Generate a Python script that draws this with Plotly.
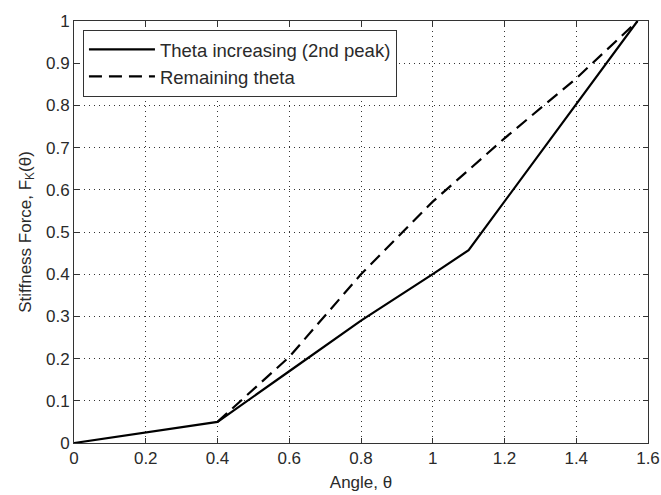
import plotly.graph_objects as go

# Data
theta_inc_x = [0.0, 0.2, 0.4, 0.6, 0.8, 1.0, 1.1, 1.5708]
theta_inc_y = [0.0, 0.025, 0.05, 0.17, 0.29, 0.40, 0.457, 1.0]

remaining_x = [0.4, 0.6, 0.8, 1.0, 1.2, 1.4, 1.5708]
remaining_y = [0.05, 0.204, 0.40, 0.572, 0.722, 0.864, 1.0]

x_ticks = [0, 0.2, 0.4, 0.6, 0.8, 1.0, 1.2, 1.4, 1.6]
x_tick_labels = ["0", "0.2", "0.4", "0.6", "0.8", "1", "1.2", "1.4", "1.6"]
y_ticks = [0, 0.1, 0.2, 0.3, 0.4, 0.5, 0.6, 0.7, 0.8, 0.9, 1.0]
y_tick_labels = ["0", "0.1", "0.2", "0.3", "0.4", "0.5", "0.6", "0.7", "0.8", "0.9", "1"]

FONT = "Liberation Sans, Arial, sans-serif"
TXT = "#2a2a2a"

fig = go.Figure()
fig.add_trace(go.Scatter(
    x=theta_inc_x, y=theta_inc_y, mode="lines",
    name="Theta increasing (2nd peak)",
    line=dict(color="black", width=2.2),
))
fig.add_trace(go.Scatter(
    x=remaining_x, y=remaining_y, mode="lines",
    name="Remaining theta",
    line=dict(color="black", width=2.2, dash="13px,7px"),
))

axis_common = dict(
    showline=True, linecolor="#333", linewidth=1, mirror="ticks",
    ticks="inside", ticklen=5, tickcolor="#333", tickwidth=1,
    showgrid=True, gridcolor="#333", gridwidth=1, griddash="1px,4px",
    zeroline=False, ticklabeloverflow="allow", automargin=False,
    tickfont=dict(family=FONT, size=17, color=TXT),
)

fig.update_layout(
    width=661, height=495,
    margin=dict(l=74, r=13, t=21, b=52),
    paper_bgcolor="white", plot_bgcolor="white",
    font=dict(family=FONT, size=17, color=TXT),
    showlegend=True,
    legend=dict(
        x=0.0156, y=0.979, xanchor="left", yanchor="top",
        bgcolor="white", bordercolor="#333", borderwidth=1,
        font=dict(family=FONT, size=18.5, color=TXT),
        itemwidth=66, tracegroupgap=0,
    ),
    xaxis=dict(
        range=[0, 1.6], tickvals=x_ticks, ticktext=x_tick_labels,
        title=dict(text="Angle, θ", font=dict(family=FONT, size=17, color=TXT), standoff=8),
        **axis_common,
    ),
    yaxis=dict(
        range=[0, 1], tickvals=y_ticks, ticktext=y_tick_labels,
        title=dict(text="Stiffness Force, F<sub>K</sub>(θ)", font=dict(family=FONT, size=17, color=TXT), standoff=10),
        **axis_common,
    ),
)

fig.write_html("out.html")
